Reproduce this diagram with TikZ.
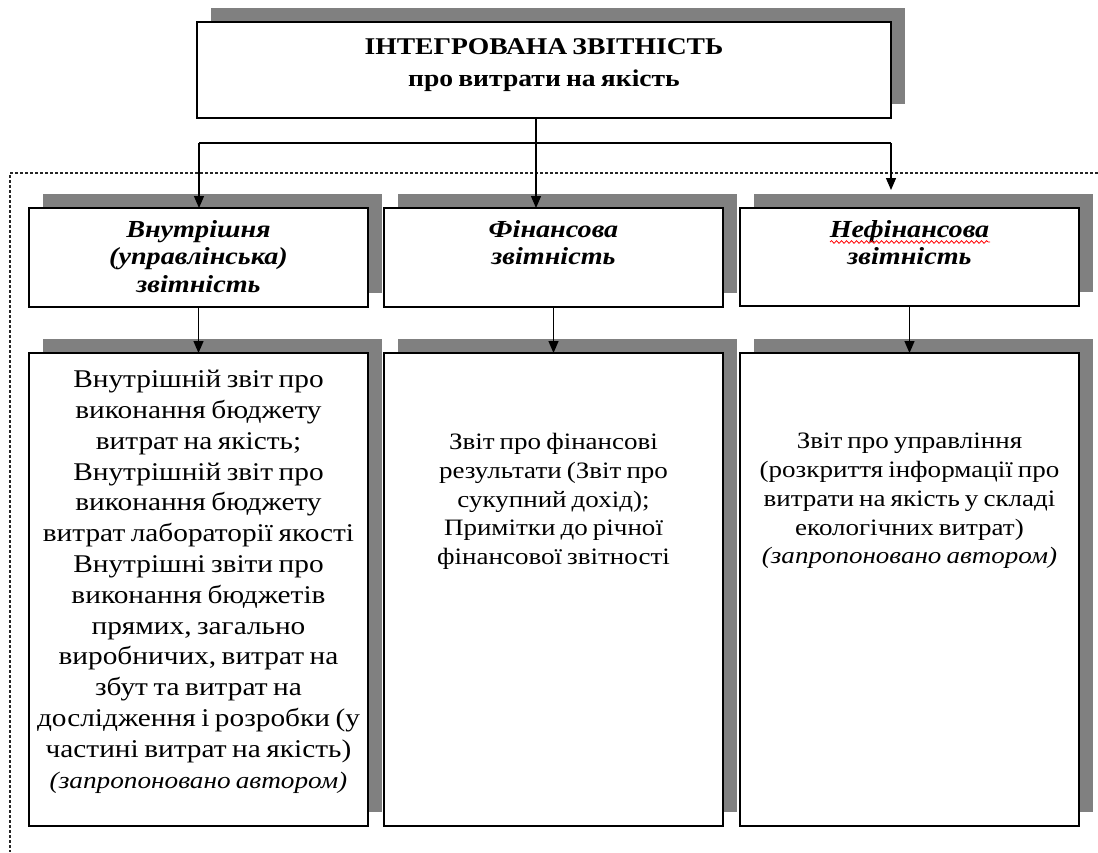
\documentclass[tikz,border=0pt]{standalone}
\usepackage{fontspec}
\setmainfont{Liberation Serif}[FakeStretch=1.15,WordSpace=0.75]
\usetikzlibrary{arrows.meta,shadows,decorations.pathmorphing}
\definecolor{shadowgray}{HTML}{808080}
\begin{document}
\begin{tikzpicture}[x=1pt,y=-1pt,
  box/.style={draw=black, line width=1.6pt, fill=white, inner sep=0pt, outer sep=0pt, anchor=north west,
    drop shadow={shadow xshift=14pt, shadow yshift=14pt, fill=shadowgray, opacity=1, shadow scale=1}},
  conn/.style={line width=1.3pt, draw=black},
  arr/.style={conn, -{Triangle[width=10pt,length=12pt]}},
  titletext/.style={align=center, inner sep=0pt, font=\fontsize{24}{32}\selectfont\bfseries},
  hdrtext/.style={align=center, inner sep=0pt, font=\fontsize{24.5}{27.5}\selectfont\bfseries\itshape},
  bodytext/.style={align=center, inner sep=0pt, font=\fontsize{23.5}{28.75}\selectfont},
  bodybig/.style={align=center, inner sep=0pt, font=\fontsize{25.5}{30.8}\selectfont},
  frame/.style={line width=1.2pt, dash pattern=on 3pt off 2pt, draw=black!85}
]
\useasboundingbox (0,0) rectangle (1098,852);

% dashed enclosing frame
\coordinate (fr1) at (1098,173);
\coordinate (fr2) at (10,173);
\coordinate (fr3) at (10,852);
\draw[frame] (fr1) -- (fr2) -- (fr3);

% top box
\node[box, minimum width=694pt, minimum height=96pt] (top) at (197,22) {};
\node[titletext] (toptxt) at ([yshift=5pt]top.center) {ІНТЕГРОВАНА ЗВІТНІСТЬ\\про витрати на якість};

% second row
\node[box, minimum width=339pt, minimum height=99pt] (b1) at (29,208) {};
\node[box, minimum width=339pt, minimum height=99pt] (b2) at (384,208) {};
\node[box, minimum width=339pt, minimum height=98pt] (b3) at (740,208) {};

\node[hdrtext, anchor=north] (h1) at ([yshift=-12pt]b1.north) {Внутрішня\\(управлінська)\\звітність};
\node[hdrtext, anchor=north] (h2) at ([yshift=-12pt]b2.north) {Фінансова\\звітність};
\node[hdrtext, anchor=north] (h3) at ([yshift=-12pt]b3.north) {Нефінансова\\звітність};

% spell-check underline
\coordinate (sq1) at (830,242);
\coordinate (sq2) at (990,242);
\draw[red, line width=0.8pt, decorate, decoration={snake, amplitude=1.3pt, segment length=5pt}] (sq1) -- (sq2);

% third row
\node[box, minimum width=339pt, minimum height=473pt] (c1) at (29,353) {};
\node[box, minimum width=339pt, minimum height=473pt] (c2) at (384,353) {};
\node[box, minimum width=339pt, minimum height=473pt] (c3) at (740,353) {};

\node[bodybig, anchor=north] (t1) at ([yshift=-17pt]c1.north) {Внутрішній звіт про\\виконання бюджету\\витрат на якість;\\Внутрішній звіт про\\виконання бюджету\\витрат лабораторії якості\\Внутрішні звіти про\\виконання бюджетів\\прямих, загально\\виробничих, витрат на\\збут та витрат на\\дослідження і розробки (у\\частині витрат на якість)\\{\fontsize{23.7}{30.8}\selectfont\itshape (запропоновано автором)}};
\node[bodytext, anchor=north] (t2) at ([yshift=-80pt]c2.north) {Звіт про фінансові\\результати (Звіт про\\сукупний дохід);\\Примітки до річної\\фінансової звітності};
\node[bodytext, anchor=north] (t3) at ([yshift=-80pt]c3.north) {Звіт про управління\\(розкриття інформації про\\витрати на якість у складі\\екологічних витрат)\\\textit{(запропоновано автором)}};

% connectors from the top box
\coordinate (mx) at (536,0);
\coordinate (hl) at (199,143);
\coordinate (hr) at (891,143);
\coordinate (rtip) at (891,190);
\draw[arr] (top.south -| mx) -- (b2.north -| mx);
\draw[conn] (hl) -- (hr);
\draw[arr] (hl) -- (b1.north -| hl);
\draw[arr] (hr) -- (rtip);

% connectors row 2 to row 3
\draw[arr] (b1.south) -- (c1.north);
\draw[arr] (b2.south) -- (c2.north);
\draw[arr] (b3.south) -- (c3.north);
\end{tikzpicture}
\end{document}
